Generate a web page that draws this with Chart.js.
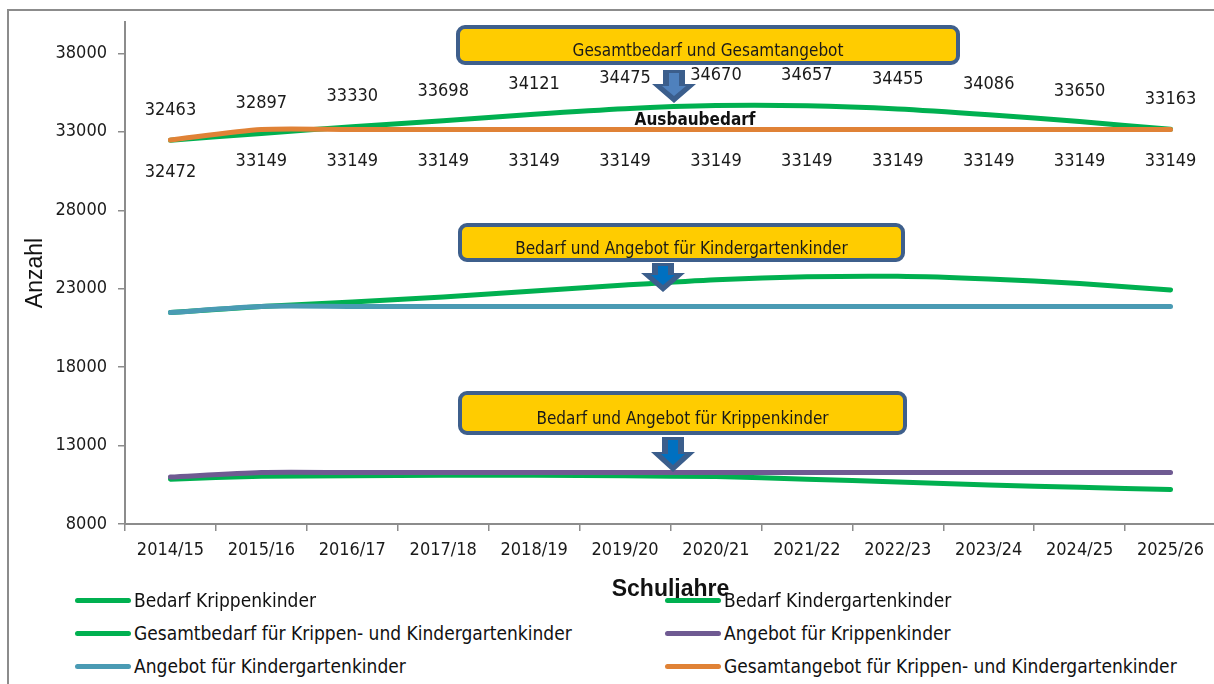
<!DOCTYPE html>
<html><head><meta charset="utf-8">
<script src="https://cdn.jsdelivr.net/npm/chart.js@4.4.1/dist/chart.umd.min.js"></script>
<style>
html,body{margin:0;padding:0;background:#fff;overflow:hidden;width:1214px;height:684px;}
#frame{position:absolute;left:7px;top:9px;width:1300px;height:700px;border-left:2px solid #8c8c8c;border-top:2px solid #8c8c8c;box-sizing:border-box;}
#c{position:absolute;left:0;top:0;}
.item{position:absolute;display:flex;align-items:center;white-space:nowrap;font-family:"Liberation Sans Narrow","DejaVu Sans Condensed",sans-serif;font-size:19px;color:#111;transform:translateY(-50%);}
.sw{width:56px;height:5px;border-radius:3px;margin-right:3px;}
</style></head>
<body>
<div id="frame"></div>
<canvas id="c" width="1230" height="603"></canvas>
<div id="legend"></div>
<script>
// ---- data ----
const categories = ['2014/15','2015/16','2016/17','2017/18','2018/19','2019/20','2020/21','2021/22','2022/23','2023/24','2024/25','2025/26'];
const bedarfKrippe = [10860, 11040, 11080, 11100, 11100, 11070, 11020, 10850, 10680, 10490, 10340, 10195];
const bedarfKita = [21480, 21870, 22150, 22470, 22850, 23230, 23570, 23760, 23790, 23620, 23330, 22920];
const gesamtBedarf = [32463, 32897, 33330, 33698, 34121, 34475, 34670, 34657, 34455, 34086, 33650, 33163];
const angebotKrippe = [10990, 11280, 11280, 11280, 11280, 11280, 11280, 11280, 11280, 11280, 11280, 11280];
const angebotKita = [21482, 21869, 21869, 21869, 21869, 21869, 21869, 21869, 21869, 21869, 21869, 21869];
const gesamtAngebot = [32472, 33149, 33149, 33149, 33149, 33149, 33149, 33149, 33149, 33149, 33149, 33149];
const yTicks = [8000, 13000, 18000, 23000, 28000, 33000, 38000];
const seriesNames = ['Bedarf Krippenkinder','Bedarf Kindergartenkinder','Gesamtbedarf für Krippen- und Kindergartenkinder','Angebot für Krippenkinder','Angebot für Kindergartenkinder','Gesamtangebot für Krippen- und Kindergartenkinder'];
const boxTexts = ['Gesamtbedarf und Gesamtangebot','Bedarf und Angebot für Kindergartenkinder','Bedarf und Angebot für Krippenkinder'];
const noteText = 'Ausbaubedarf';

const GREEN = '#00B050', PURPLE = '#6F5A92', TEAL = '#4A9BB4', ORANGE = '#E08236';
const NARROW = '"Liberation Sans Narrow","DejaVu Sans Condensed",sans-serif';

const seriesData = [bedarfKrippe, bedarfKita, gesamtBedarf, angebotKrippe, angebotKita, gesamtAngebot];
const seriesColors = [GREEN, GREEN, GREEN, PURPLE, TEAL, ORANGE];
const seriesOrder = [2, 2, 2, 1, 1, 1];

// legend (HTML)
const legendPos = [[75,600],[665,600],[75,633],[665,633],[75,666],[665,666]];
const lg = document.getElementById('legend');
seriesNames.forEach((n,i)=>{
  const d = document.createElement('div');
  d.className='item';
  d.style.left = legendPos[i][0]+'px';
  d.style.top = legendPos[i][1]+'px';
  d.innerHTML = '<span class="sw" style="background:'+seriesColors[i]+'"></span><span></span>';
  d.lastChild.textContent = n;
  lg.appendChild(d);
});

function arrow(ctx, cx, y0, yh, yt, inner){
  const sw = 11, hw = 22;
  ctx.beginPath();
  ctx.moveTo(cx-sw, y0); ctx.lineTo(cx+sw, y0); ctx.lineTo(cx+sw, yh);
  ctx.lineTo(cx+hw, yh); ctx.lineTo(cx, yt); ctx.lineTo(cx-hw, yh); ctx.lineTo(cx-sw, yh); ctx.closePath();
  ctx.fillStyle = '#3B5E8C'; ctx.fill();
  const s2 = 5, h2 = 12;
  ctx.beginPath();
  ctx.moveTo(cx-s2, y0+3); ctx.lineTo(cx+s2, y0+3); ctx.lineTo(cx+s2, yh+2);
  ctx.lineTo(cx+h2, yh+2); ctx.lineTo(cx, yt-7); ctx.lineTo(cx-h2, yh+2); ctx.lineTo(cx-s2, yh+2); ctx.closePath();
  ctx.fillStyle = inner; ctx.fill();
}
function box(ctx, x, y, w, h, text, ty){
  ctx.save();
  ctx.beginPath();
  ctx.roundRect(x, y, w, h, 7);
  ctx.fillStyle = '#FFCC00'; ctx.fill();
  ctx.lineWidth = 4; ctx.strokeStyle = '#3E5F8C'; ctx.stroke();
  ctx.fillStyle = '#1a1a1a';
  ctx.font = '17px ' + NARROW;
  ctx.textAlign = 'center'; ctx.textBaseline = 'middle';
  ctx.fillText(text, x + w/2, ty);
  ctx.restore();
}

const overlay = {
  id: 'overlay',
  afterDatasetsDraw(chart){
    const ctx = chart.ctx;
    ctx.save();
    ctx.font = '18px ' + NARROW;
    ctx.fillStyle = '#1a1a1a';
    ctx.textAlign = 'center'; ctx.textBaseline = 'middle';
    chart.getDatasetMeta(2).data.forEach((p,i)=>{ ctx.fillText(String(gesamtBedarf[i]), p.x, p.y - 30); });
    chart.getDatasetMeta(5).data.forEach((p,i)=>{ ctx.fillText(String(gesamtAngebot[i]), p.x, p.y + 32); });
    ctx.restore();
    // annotation boxes and arrows
    box(ctx, 458, 27, 500, 36, boxTexts[0], 52);
    arrow(ctx, 674, 70, 84, 103, '#4F81BD');
    ctx.save();
    ctx.font = 'bold 17px ' + NARROW;
    ctx.fillStyle = '#111'; ctx.textAlign='center'; ctx.textBaseline='middle';
    ctx.fillText(noteText, 695, 121);
    ctx.restore();
    box(ctx, 460, 225, 443, 35, boxTexts[1], 250);
    arrow(ctx, 663, 263, 273, 292, '#0070C0');
    box(ctx, 460, 393, 445, 40, boxTexts[2], 420);
    arrow(ctx, 673, 437, 452, 472, '#0070C0');
  }
};

new Chart(document.getElementById('c'), {
  type: 'line',
  data: {
    labels: categories,
    datasets: seriesData.map((d,i)=>({
      label: seriesNames[i], data: d, borderColor: seriesColors[i], backgroundColor: seriesColors[i],
      borderWidth: 5, pointRadius: 0, tension: 0.25, fill: false, order: seriesOrder[i],
      borderCapStyle: 'round', borderJoinStyle: 'round'
    }))
  },
  options: {
    responsive: false, animation: false, devicePixelRatio: 1,
    layout: { padding: { top: 22, right: 14, left: 0, bottom: 0 } },
    plugins: { legend: { display: false }, tooltip: { enabled: false } },
    scales: {
      x: {
        offset: true,
        grid: { offset: true, drawOnChartArea: false, drawTicks: true, tickLength: 7, color: '#8c8c8c', lineWidth: 1.5 },
        border: { color: '#8c8c8c', width: 2 },
        ticks: { color: '#1a1a1a', font: { family: NARROW, size: 18 }, padding: 9, maxRotation: 0, autoSkip: false },
        title: { display: true, text: 'Schuljahre', color: '#111', font: { family: '"Liberation Sans",Arial,sans-serif', size: 23, weight: 'bold' }, padding: { top: 0, bottom: 0 } },
        afterFit(s){ s.height = 79; }
      },
      y: {
        min: 8000, max: 40000,
        grid: { drawOnChartArea: false, drawTicks: true, tickLength: 7, color: '#8c8c8c', lineWidth: 1.5 },
        border: { color: '#8c8c8c', width: 2 },
        ticks: { color: '#1a1a1a', font: { family: NARROW, size: 18 }, padding: 11, callback: v => String(v) },
        afterBuildTicks(s){ s.ticks = yTicks.map(v=>({value:v})); },
        title: { display: true, text: 'Anzahl', color: '#111', font: { family: '"Liberation Sans",Arial,sans-serif', size: 23 }, padding: { top: 22, bottom: 0 } },
        afterFit(s){ s.width = 125; }
      }
    }
  },
  plugins: [overlay]
});
</script>
</body></html>
